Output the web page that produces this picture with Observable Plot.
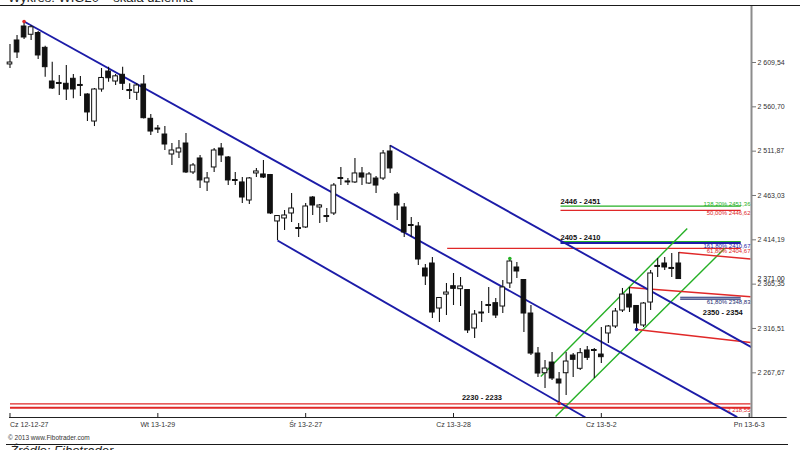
<!DOCTYPE html>
<html lang="pl"><head><meta charset="utf-8">
<script src="https://cdn.jsdelivr.net/npm/d3@7"></script>
<script src="https://cdn.jsdelivr.net/npm/@observablehq/plot@0.6"></script>
<style>
html,body{margin:0;padding:0;background:#fff;}
#wrap{width:800px;height:450px;overflow:hidden;font-family:"Liberation Sans",Arial,sans-serif;}
#hdr{position:relative;height:5px;overflow:hidden;border-bottom:1px solid #1a1a1a;}
#hdr span{position:absolute;left:8px;top:-10px;font-size:13px;color:#222;white-space:nowrap;}
#chart svg{display:block;}
#ftr{position:relative;height:16px;overflow:hidden;}
#copy{position:absolute;left:8px;top:0px;font-size:6.5px;line-height:7px;color:#333;}
#rule{position:absolute;left:6px;right:12px;top:10px;border-top:1px solid #1a1a1a;}
#src{position:absolute;left:10px;top:9px;font-size:13px;font-style:italic;color:#222;white-space:nowrap;}
</style></head>
<body><div id="wrap"><div id="hdr"><span>Wykres: WIG20 – skala dzienna</span></div><div id="chart"></div><div id="ftr"><div id="copy">© 2013 www.Fibotrader.com</div><div id="rule"></div><div id="src">Źródło: Fibotrader</div></div></div>
<script>
// ---- candle data (daily OHLC, WIG20) ----
const open  = [2607.4,2633.8,2649.2,2640.1,2642.0,2625.7,2588.6,2587.0,2586.1,2591.6,2584.8,2574.3,2544.5,2579.8,2599.6,2588.6,2596.0,2579.2,2576.2,2585.3,2547.5,2536.8,2530.2,2508.2,2510.4,2520.3,2488.4,2503.8,2477.4,2493.9,2514.8,2504.9,2480.1,2477.4,2457.5,2487.3,2486.2,2485.6,2434.4,2437.7,2443.2,2427.2,2427.8,2460.8,2449.8,2440.4,2443.2,2481.2,2478.5,2477.4,2487.3,2476.2,2481.7,2481.7,2511.5,2464.1,2449.8,2430.5,2428.9,2382.6,2388.1,2338.5,2353.9,2363.1,2359.8,2358.9,2316.5,2333.0,2341.3,2344.4,2340.7,2366.1,2383.7,2369.9,2333.0,2288.9,2267.2,2279.0,2260.3,2267.2,2286.7,2272.1,2292.3,2292.8,2287.8,2311.0,2318.7,2336.3,2353.9,2341.3,2319.8,2345.1,2385.4,2388.1,2383.2,2388.1];
const high  = [2629.4,2639.3,2654.7,2650.3,2643.7,2627.5,2609.9,2595.2,2606.3,2596.3,2594.1,2575.0,2580.9,2602.9,2604.4,2596.3,2604.4,2586.1,2586.4,2595.2,2552.3,2540.1,2539.0,2520.3,2523.6,2531.3,2498.3,2507.1,2488.4,2514.8,2520.3,2506.0,2488.4,2482.8,2482.8,2492.8,2501.6,2486.2,2441.0,2446.5,2465.2,2432.2,2454.2,2461.9,2453.1,2448.7,2476.2,2493.9,2481.7,2503.8,2493.9,2488.4,2483.9,2512.6,2518.1,2466.3,2454.2,2438.8,2433.3,2387.0,2394.7,2350.6,2366.1,2377.1,2372.7,2359.5,2336.3,2346.2,2361.7,2349.5,2369.4,2393.6,2389.2,2370.5,2341.8,2295.5,2281.2,2290.0,2268.0,2290.0,2288.9,2294.5,2296.7,2294.5,2317.6,2319.8,2338.5,2360.6,2361.7,2341.8,2345.1,2380.4,2393.6,2394.7,2399.1,2400.2];
const low   = [2602.9,2614.0,2634.9,2633.8,2612.8,2593.4,2579.8,2573.2,2567.7,2569.5,2572.1,2544.5,2539.0,2576.8,2587.8,2584.2,2578.7,2568.8,2567.7,2547.3,2529.1,2531.3,2512.6,2496.1,2503.8,2487.3,2486.2,2470.7,2467.4,2488.4,2499.4,2474.0,2474.0,2454.2,2453.1,2482.8,2481.7,2442.1,2413.4,2424.5,2433.3,2416.7,2426.7,2441.0,2432.2,2433.3,2441.0,2474.0,2474.0,2476.2,2474.0,2475.1,2465.2,2479.6,2487.3,2435.5,2416.7,2416.7,2385.9,2363.9,2327.5,2323.1,2330.8,2341.8,2340.7,2311.0,2305.5,2323.1,2333.0,2327.5,2333.0,2360.6,2371.6,2312.1,2286.7,2262.5,2250.4,2259.2,2233.9,2242.7,2262.5,2270.2,2281.2,2261.4,2277.9,2300.0,2316.5,2334.1,2334.1,2315.4,2317.6,2336.3,2372.7,2380.4,2372.7,2371.6];
const close = [2609.5,2620.6,2637.1,2648.4,2617.3,2604.4,2580.9,2585.9,2579.8,2579.8,2583.7,2554.5,2579.8,2592.5,2592.2,2594.3,2586.1,2578.1,2584.2,2548.2,2533.5,2535.7,2519.2,2512.6,2514.8,2488.4,2496.1,2479.6,2481.8,2512.6,2507.1,2479.6,2479.0,2460.8,2481.8,2489.5,2482.8,2443.2,2440.4,2441.0,2448.7,2426.1,2450.9,2452.0,2452.0,2439.3,2474.0,2482.3,2477.4,2487.3,2482.8,2486.2,2474.0,2509.3,2492.8,2452.0,2422.3,2429.4,2392.5,2373.8,2334.1,2350.1,2356.1,2360.2,2362.8,2314.3,2331.9,2334.1,2342.4,2330.8,2361.7,2390.3,2379.3,2333.0,2288.9,2266.9,2272.4,2261.4,2255.9,2280.1,2282.0,2289.3,2284.2,2291.7,2284.9,2318.7,2335.2,2353.9,2339.6,2322.0,2344.0,2377.1,2384.3,2383.7,2382.1,2371.0];

// axis ticks
const yTicks = [2267.67,2316.51,2365.35,2414.19,2463.03,2511.87,2560.70,2609.54];
const dateLabels = ["Cz 12-12-27","Wt 13-1-29","Śr 13-2-27","Cz 13-3-28","Cz 13-5-2","Pn 13-6-3"];
const dateIdx = [0,21,42,63,84,105];
const lastPrice = 2371.00;

// analysis overlays (candle index, price)
const blueLines  = [[2,2654.7,103.3,2218.8],[54,2518.1,105.3,2296.0],[38,2413.4,81.75,2218.4]];
const greenLines = [[75.4,2263.6,96.2,2426.7],[77.5,2219.5,101.5,2404.6]];
const redRays    = [[95,2400.2,105.2,2393.0],[88,2361.7,105.2,2351.5],[89,2315.4,105.2,2301.0]];
const levelPrice = [2451.36,2446.62,2412.2,2410.67,2404.67,2350.9,2348.83,2233.5,2229.2];
const levelFrom  = [78.2,78.2,78.2,78.2,62.1,95.2,95.2,0,0];
const levelTo    = [103.8,103.8,103.8,103.8,103.8,103.8,103.8,105.2,105.2];
const levelKind  = ["g","r","g","b","r","n","n","r","R"];
const fibText  = ["138,20% 2451,36","50,00% 2446,62","161,80% 2410,67","61,80% 2404,67","61,80% 2348,83","2 218,55"];
const fibPrice = [2451.36,2446.62,2410.67,2404.67,2348.83,2229.2];
const fibKind  = ["g","r","b","r","n","r"];
const fibAbove = [true,false,false,false,false,false];
const zoneText  = ["2446 - 2451","2405 - 2410","2350 - 2354","2230 - 2233"];
const zoneIdx   = [78.2,78.2,98.4,64.2];
const zonePrice = [2456.4,2416.7,2334.1,2239.9];
const markIdx   = [2,78,71,89];
const markPrice = [2654.7,2233.9,2393.6,2315.4];
const markKind  = ["r","r","g","b"];

// ---- styling ----
const col = {g:"#25b025", r:"#e02828", R:"#e02828", b:"#1c1ca8", n:"#1a2a70"};
const yMin = 2218.44, yMax = 2671.24, xMin = -0.07, xMax = 105.33, xAxisEnd = 110.4;

const candles = open.map((o,i)=>({i,o,h:high[i],l:low[i],c:close[i],up:close[i]>=o}));
const lines = (arr,k)=>arr.map(a=>({x1:a[0],y1:a[1],x2:a[2],y2:a[3],k}));
const levels = levelPrice.map((p,j)=>({p,from:levelFrom[j],to:levelTo[j],k:levelKind[j]}));
const fibs = fibText.map((t,j)=>({t,p:fibPrice[j],k:fibKind[j],above:fibAbove[j]}));
const zones = zoneText.map((t,j)=>({t,i:zoneIdx[j],p:zonePrice[j]}));
const marks = markIdx.map((i,j)=>({i,p:markPrice[j],k:markKind[j]}));
const dates = dateLabels.map((t,j)=>({t,i:dateIdx[j]}));
const loc = d3.formatLocale({decimal:",",thousands:"\u00a0",grouping:[3],currency:["",""]});
const fmt = loc.format(",.2f");
const tickLen = 4*(yMax-yMin)/411;

const plot = Plot.plot({
  width:800, height:428, marginTop:0, marginBottom:17, marginLeft:9, marginRight:49,
  x:{type:"linear", domain:[xMin,xMax], axis:null},
  y:{type:"linear", domain:[yMin,yMax], axis:null},
  style:{fontFamily:"'Liberation Sans',Arial,sans-serif", background:"#fff", overflow:"visible"},
  marks:[
    // horizontal target levels
    Plot.link(levels,{x1:"from",x2:"to",y1:"p",y2:"p",stroke:d=>col[d.k],strokeWidth:d=>d.k==="R"?2:(d.k==="b"?1.8:1.2)}),
    // trend / channel lines
    Plot.link(lines(greenLines,"g"),{x1:"x1",y1:"y1",x2:"x2",y2:"y2",stroke:col.g,strokeWidth:1.4}),
    Plot.link(lines(redRays,"r"),{x1:"x1",y1:"y1",x2:"x2",y2:"y2",stroke:col.r,strokeWidth:1.4}),
    Plot.link(lines(blueLines,"b"),{x1:"x1",y1:"y1",x2:"x2",y2:"y2",stroke:col.b,strokeWidth:1.9}),
    // candles
    Plot.ruleX(candles,{x:"i",y1:"l",y2:"h",stroke:"#111",strokeWidth:1.1}),
    Plot.rect(candles,{x1:d=>d.i-0.33,x2:d=>d.i+0.33,y1:"o",y2:"c",fill:d=>d.up?"#fff":"#111",stroke:"#111",strokeWidth:1}),
    Plot.dot(marks,{x:"i",y:"p",r:1.8,fill:d=>col[d.k],stroke:null}),
    // labels
    Plot.text(fibs.filter(d=>!d.above),{x:xMax,y:"p",text:"t",textAnchor:"end",lineAnchor:"top",dx:-1,dy:0.5,fontSize:6,fill:d=>col[d.k]}),
    Plot.text(fibs.filter(d=>d.above),{x:xMax,y:"p",text:"t",textAnchor:"end",lineAnchor:"bottom",dx:-1,dy:-0.5,fontSize:6,fill:d=>col[d.k]}),
    Plot.text(zones,{x:"i",y:"p",text:"t",textAnchor:"start",fontSize:7.5,fontWeight:"bold",fill:"#111"}),
    // axes
    Plot.ruleX([xMax],{stroke:"#8c8c8c",strokeWidth:2}),
    Plot.ruleY([yMin],{x1:xMin,x2:xAxisEnd,stroke:"#222",strokeWidth:1}),
    Plot.ruleX(dates,{x:"i",y1:yMin,y2:yMin+tickLen,stroke:"#222"}),
    Plot.text(dates.slice(0,1),{x:"i",text:"t",frameAnchor:"bottom",textAnchor:"start",dy:9,fontSize:7,fill:"#333"}),
    Plot.text(dates.slice(1),{x:"i",text:"t",frameAnchor:"bottom",textAnchor:"middle",dy:9,fontSize:7,fill:"#333"}),
    Plot.axisY(yTicks,{anchor:"right",tickSize:4,tickPadding:2,tickFormat:fmt,fontSize:7,color:"#333",stroke:"#777"}),
    Plot.text([lastPrice],{x:xMax,y:d=>d,text:d=>fmt(d),dx:6,textAnchor:"start",fontSize:7,fill:"#111",ariaLabel:"last-price"})
  ]
});
document.getElementById("chart").appendChild(plot);
// frame the current price
const t = plot.querySelector('g[aria-label="last-price"] text');
if (t) {
  const b = t.getBBox();
  const r = document.createElementNS("http://www.w3.org/2000/svg","rect");
  r.setAttribute("x", b.x-2.5); r.setAttribute("y", b.y-0.5);
  r.setAttribute("width", b.width+5); r.setAttribute("height", b.height+2);
  r.setAttribute("fill","#fff"); r.setAttribute("stroke","#111"); r.setAttribute("stroke-width","1");
  t.parentNode.insertBefore(r, t);
}
</script></body></html>
